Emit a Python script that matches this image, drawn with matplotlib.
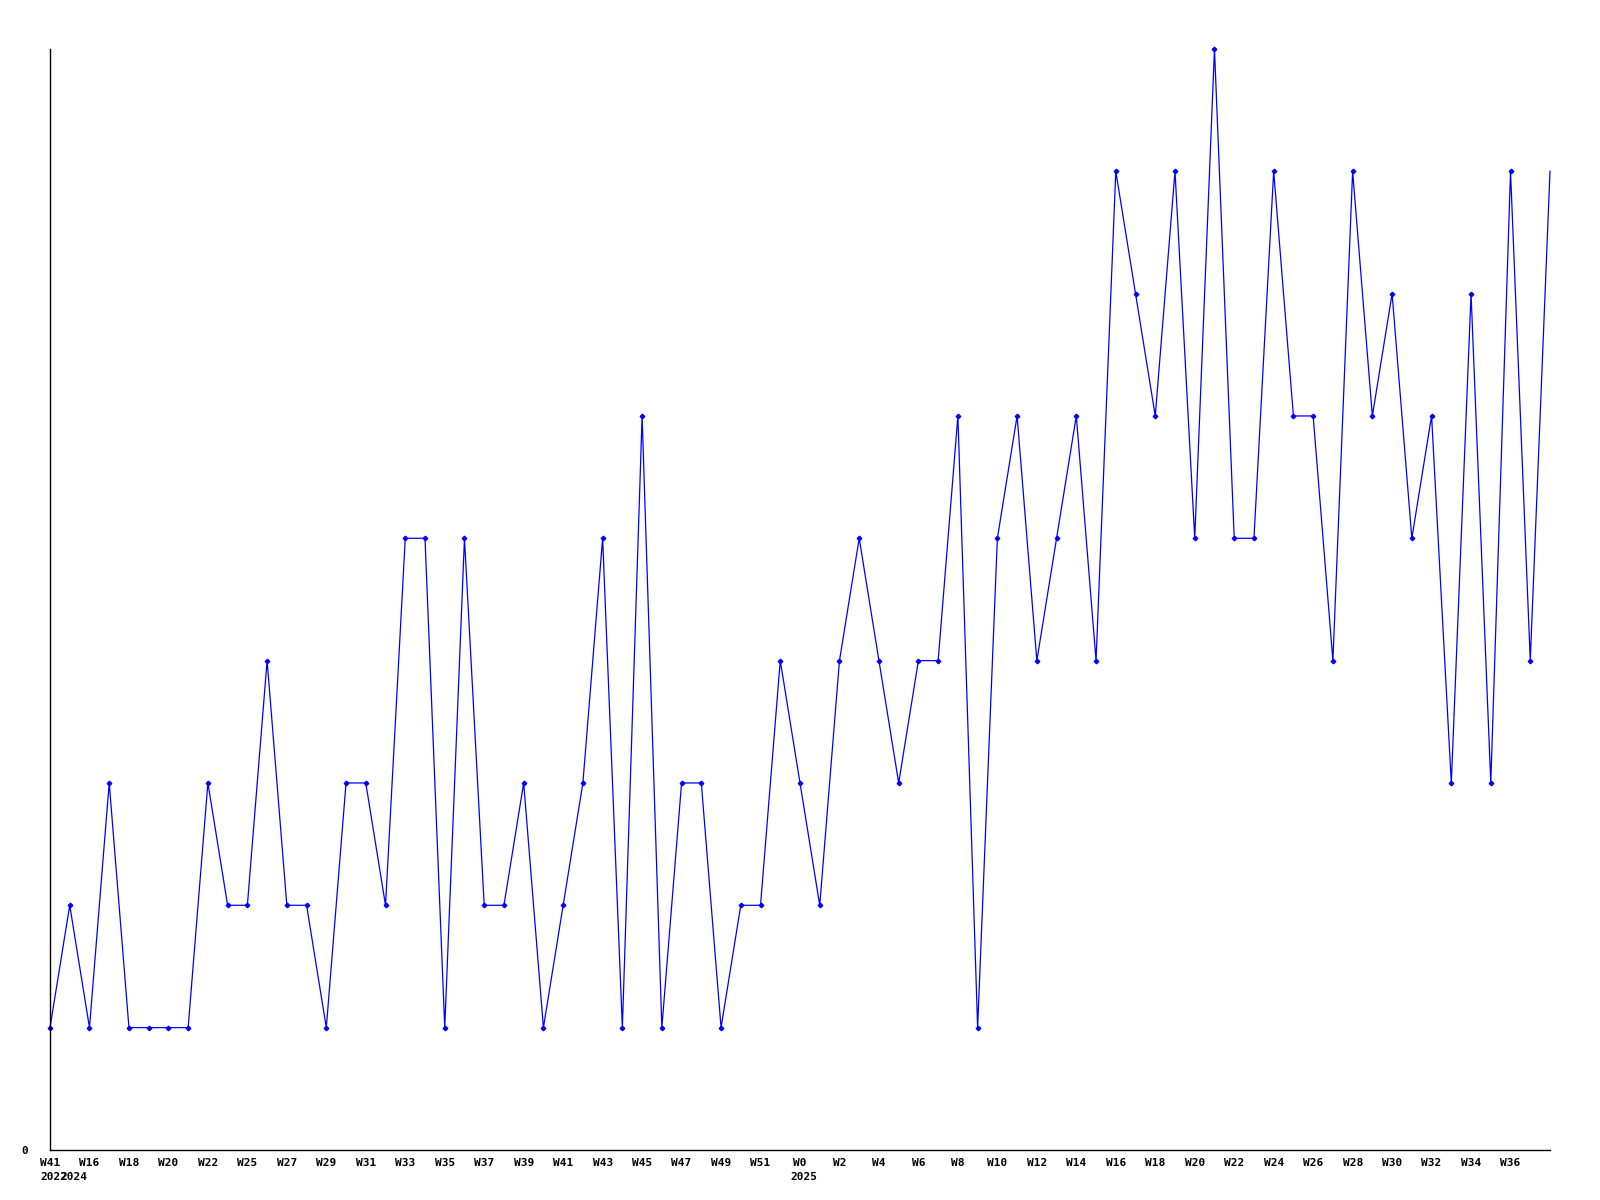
import matplotlib
matplotlib.use("Agg")
import matplotlib.pyplot as plt
import matplotlib.transforms as mtransforms

# weekly counts, one value per point
values = [1, 2, 1, 3, 1, 1, 1, 1, 3, 2, 2, 4, 2, 2, 1, 3, 3, 2, 5, 5,
          1, 5, 2, 2, 3, 1, 2, 3, 5, 1, 6, 1, 3, 3, 1, 2, 2, 4, 3, 2,
          4, 5, 4, 3, 4, 4, 6, 1, 5, 6, 4, 5, 6, 4, 8, 7, 6, 8, 5, 9,
          5, 5, 8, 6, 6, 4, 8, 6, 7, 5, 6, 3, 7, 3, 8, 4, 8]

# labelled ticks: point index -> week label
tick_pos = [0, 2, 4, 6, 8, 10, 12, 14, 16, 18, 20, 22, 24, 26, 28, 30, 32,
            34, 36, 38, 40, 42, 44, 46, 48, 50, 52, 54, 56, 58, 60, 62, 64,
            66, 68, 70, 72, 74]
tick_labels = ["W41", "W16", "W18", "W20", "W22", "W25", "W27", "W29", "W31",
               "W33", "W35", "W37", "W39", "W41", "W43", "W45", "W47", "W49",
               "W51", "W0", "W2", "W4", "W6", "W8", "W10", "W12", "W14", "W16",
               "W18", "W20", "W22", "W24", "W26", "W28", "W30", "W32", "W34",
               "W36"]

# year labels under the week labels
year_pos = [0, 1, 38]
year_labels = ["2022", "2024", "2025"]

font = {"family": "DejaVu Sans Mono", "weight": "bold", "size": 8}

fig = plt.figure(figsize=(16, 12), dpi=100)
ax = fig.add_axes([0.03125, 0.0417, 0.9375, 0.9175])

x = list(range(len(values)))
ax.plot(x, values, color="#0000ff", linewidth=0.9,
        marker="D", markersize=2.3, markevery=list(range(len(values) - 1)),
        clip_on=False)

ax.set_xlim(0, len(values) - 1)
ax.set_ylim(0, 9)

ax.spines["top"].set_visible(False)
ax.spines["right"].set_visible(False)
ax.spines["left"].set_linewidth(1.0)
ax.spines["bottom"].set_linewidth(1.0)

ax.set_xticks(tick_pos)
ax.set_xticklabels(tick_labels, fontdict=font)
ax.set_yticks([0])
ax.set_yticklabels(["0"], fontdict=font)
ax.tick_params(axis="x", length=0, pad=6)
ax.tick_params(axis="y", length=0, pad=16)

# year labels sit one line below the week labels
shift = mtransforms.ScaledTranslation(0, -22 / 100, fig.dpi_scale_trans)
trans = mtransforms.blended_transform_factory(ax.transData, ax.transAxes) + shift
for p, lab in zip(year_pos, year_labels):
    ax.text(p + 0.2, 0, lab, transform=trans, ha="center", va="top",
            fontdict=font)

fig.savefig("out.png", dpi=100)
